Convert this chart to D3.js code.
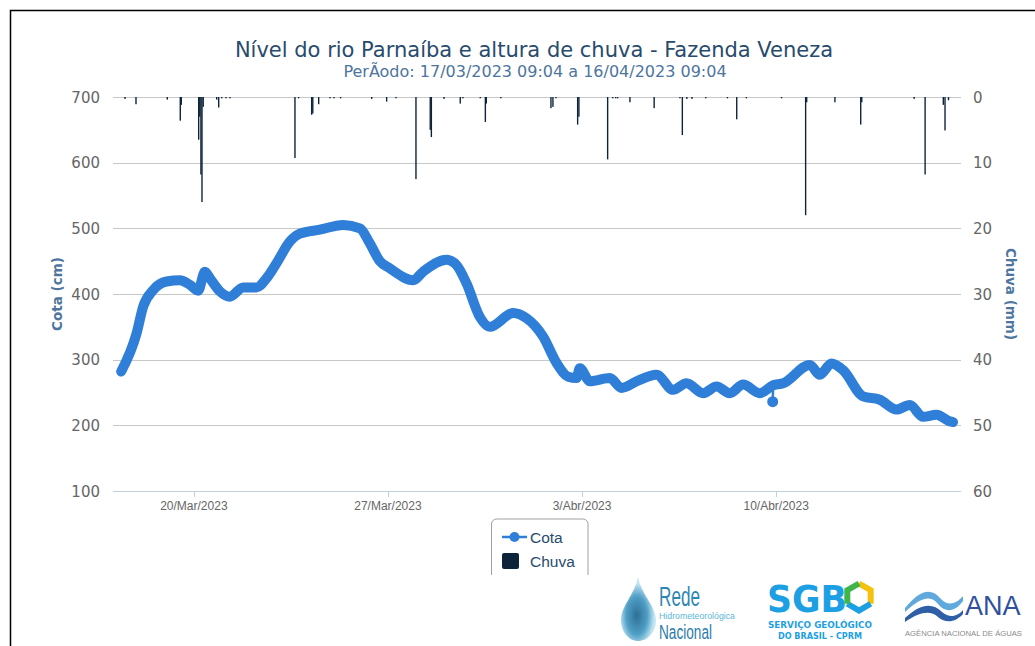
<!DOCTYPE html>
<html><head><meta charset="utf-8">
<script src="https://cdn.jsdelivr.net/npm/d3@7"></script>
<style>body{margin:0;background:#fff} svg{display:block}</style>
</head><body>
<svg id="c" width="1035" height="646"></svg>
<script>
const titleText = "Nível do rio Parnaíba e altura de chuva - Fazenda Veneza";
const subtitleText = "PerÃodo: 17/03/2023 09:04 a 16/04/2023 09:04";
const cotaTicks = [100,200,300,400,500,600,700];
const chuvaTicks = [0,10,20,30,40,50,60];
const xTickDates = ["2023-03-20 00:00","2023-03-27 00:00","2023-04-03 00:00","2023-04-10 00:00"];
const xTickLabels = ["20/Mar/2023","27/Mar/2023","3/Abr/2023","10/Abr/2023"];
const legendLabels = ["Cota","Chuva"];

const cotaDates = [
"2023-03-17 09:04","2023-03-17 22:25","2023-03-18 04:08","2023-03-18 12:46","2023-03-19 00:22",
"2023-03-19 11:53","2023-03-19 20:32","2023-03-20 03:43","2023-03-20 09:31","2023-03-20 13:51",
"2023-03-20 22:30","2023-03-21 07:10","2023-03-21 18:40","2023-03-22 06:16","2023-03-22 14:55",
"2023-03-22 23:34","2023-03-23 11:05","2023-03-23 19:45","2023-03-24 13:03","2023-03-25 09:13",
"2023-03-25 23:40","2023-03-26 08:20","2023-03-26 16:58","2023-03-27 01:38","2023-03-27 21:48",
"2023-03-28 06:27","2023-03-29 02:43","2023-03-29 11:22","2023-03-29 20:01","2023-03-30 07:32",
"2023-03-30 16:10","2023-03-31 12:21","2023-03-31 23:57","2023-04-01 14:19","2023-04-02 01:55",
"2023-04-02 11:57","2023-04-02 19:13","2023-04-02 22:05","2023-04-03 06:45","2023-04-04 00:03",
"2023-04-04 10:09","2023-04-04 23:08","2023-04-05 16:27","2023-04-06 06:49","2023-04-06 18:25",
"2023-04-07 08:47","2023-04-07 20:23","2023-04-08 07:54","2023-04-08 19:25","2023-04-09 09:52",
"2023-04-09 21:23","2023-04-10 06:03","2023-04-11 05:08","2023-04-11 13:48","2023-04-11 23:54",
"2023-04-12 09:57","2023-04-13 03:16","2023-04-13 17:43","2023-04-14 08:10","2023-04-14 19:41",
"2023-04-15 07:12","2023-04-15 18:48","2023-04-16 06:19","2023-04-16 09:04"];
const cotaValues = [
282,340,381,406,419,
421,414,405,434,424,
404,396,410,410,424,
447,480,492,498,505,
500,477,450,439,421,
434,452,444,416,365,
350,371,363,335,295,
274,272,287,267,272,
257,267,277,254,264,
249,259,249,262,249,
261,264,292,277,294,
284,244,239,224,231,
213,216,206,205];
const cotaIsolatedDates = ["2023-04-09 21:00"];
const cotaIsolatedValues = [236];

const chuvaDates = [
"2023-03-17 12:17","2023-03-17 21:48","2023-03-19 00:53","2023-03-19 12:08","2023-03-19 13:00",
"2023-03-20 04:04","2023-03-20 05:00","2023-03-20 06:00","2023-03-20 06:55","2023-03-20 08:00",
"2023-03-20 19:40","2023-03-20 21:23","2023-03-21 00:00","2023-03-21 03:42","2023-03-21 07:10",
"2023-03-23 15:24","2023-03-23 18:36","2023-03-24 05:51","2023-03-24 06:50","2023-03-24 11:56",
"2023-03-24 21:42","2023-03-25 01:10","2023-03-25 06:55","2023-03-26 09:48","2023-03-26 22:46",
"2023-03-27 06:50","2023-03-28 00:08","2023-03-28 12:30","2023-03-28 13:28","2023-03-29 00:27",
"2023-03-29 14:28","2023-03-29 16:48","2023-03-30 07:47","2023-03-30 12:12","2023-03-30 13:00",
"2023-03-31 01:36","2023-04-01 20:59","2023-04-01 22:42","2023-04-02 01:18","2023-04-02 20:05",
"2023-04-02 21:10","2023-04-03 22:03","2023-04-04 02:30","2023-04-04 05:00","2023-04-04 06:40",
"2023-04-04 17:21","2023-04-05 14:18","2023-04-06 12:37","2023-04-06 14:42","2023-04-06 18:36",
"2023-04-06 23:01","2023-04-07 10:58","2023-04-08 05:44","2023-04-08 13:47","2023-04-08 22:06",
"2023-04-10 04:33","2023-04-11 01:25","2023-04-11 02:20","2023-04-12 02:47","2023-04-13 01:06",
"2023-04-13 02:00","2023-04-14 23:20","2023-04-15 08:50","2023-04-16 00:36","2023-04-16 02:04",
"2023-04-16 05:05"];
const chuvaValues = [
0.3,1.1,0.4,3.6,1.2,
6.5,3.0,11.8,16.0,1.5,
0.4,1.6,0.2,0.2,0.2,
9.3,0.2,2.7,2.5,1.1,
0.2,0.2,0.2,0.3,0.7,
0.2,12.5,5.0,6.1,0.3,
1.0,0.2,0.2,3.8,1.0,
0.2,1.7,1.5,0.2,4.2,
3.0,9.5,0.2,0.2,0.2,
0.8,1.7,0.2,5.8,0.3,
0.3,0.2,0.2,3.4,0.2,
0.2,18.0,0.8,0.8,4.2,
0.8,0.3,11.8,1.2,5.1,
0.5];

const parse = d3.timeParse("%Y-%m-%d %H:%M");
const svg = d3.select("#c");

const plot = {left:113, right:961, top:97, bottom:491};
const x = d3.scaleTime()
  .domain([parse("2023-03-17 02:00"), parse("2023-04-16 16:00")])
  .range([plot.left, plot.right]);
const yL = d3.scaleLinear().domain([100,700]).range([plot.bottom, plot.top]);
const yR = d3.scaleLinear().domain([0,60]).range([plot.top, plot.bottom]);

// frame
svg.append("rect").attr("x",10.5).attr("y",10.5).attr("width",1100).attr("height",700)
  .attr("fill","none").attr("stroke","#000").attr("stroke-width",1.5);

// gridlines
svg.append("g").selectAll("line").data(cotaTicks.filter(d=>d>100)).join("line")
  .attr("x1",plot.left).attr("x2",plot.right)
  .attr("y1",d=>Math.round(yL(d))+0.5).attr("y2",d=>Math.round(yL(d))+0.5)
  .attr("stroke","#c8c8c8").attr("stroke-width",1);
// x axis line
svg.append("line").attr("x1",plot.left).attr("x2",plot.right)
  .attr("y1",plot.bottom+0.5).attr("y2",plot.bottom+0.5)
  .attr("stroke","#c0d0e0").attr("stroke-width",1);
// x ticks
svg.append("g").selectAll("line").data(xTickDates).join("line")
  .attr("x1",d=>Math.round(x(parse(d)))+0.5).attr("x2",d=>Math.round(x(parse(d)))+0.5)
  .attr("y1",plot.bottom).attr("y2",plot.bottom+6)
  .attr("stroke","#c0d0e0");
svg.append("g").selectAll("text").data(xTickDates).join("text")
  .attr("x",d=>x(parse(d))).attr("y",plot.bottom+19)
  .attr("text-anchor","middle")
  .attr("font-family","Liberation Sans, Arial, sans-serif").attr("font-size",12)
  .attr("fill","#666").text((d,i)=>xTickLabels[i]);

// left axis labels
svg.append("g").selectAll("text").data(cotaTicks).join("text")
  .attr("x",100).attr("y",d=>yL(d)+5.5)
  .attr("text-anchor","end")
  .attr("font-family","DejaVu Sans, Verdana, sans-serif").attr("font-size",15)
  .attr("fill","#666").text(d=>d);
// right axis labels
svg.append("g").selectAll("text").data(chuvaTicks).join("text")
  .attr("x",973).attr("y",d=>yR(d)+5.5)
  .attr("text-anchor","start")
  .attr("font-family","DejaVu Sans, Verdana, sans-serif").attr("font-size",15)
  .attr("fill","#666").text(d=>d);

// axis titles
svg.append("text").attr("transform",`translate(62,${(plot.top+plot.bottom)/2}) rotate(-90)`)
  .attr("text-anchor","middle")
  .attr("font-family","DejaVu Sans, sans-serif").attr("font-weight","bold").attr("font-size",13.5)
  .attr("fill","#4d759e").text("Cota (cm)");
svg.append("text").attr("transform",`translate(1006,${(plot.top+plot.bottom)/2}) rotate(90)`)
  .attr("text-anchor","middle")
  .attr("font-family","DejaVu Sans, sans-serif").attr("font-weight","bold").attr("font-size",13.5)
  .attr("fill","#4d759e").text("Chuva (mm)");

// titles
svg.append("text").attr("x",534).attr("y",57).attr("text-anchor","middle")
  .attr("font-family","DejaVu Sans, sans-serif").attr("font-size",21)
  .attr("fill","#274b6d").text(titleText);
svg.append("text").attr("x",535).attr("y",77).attr("text-anchor","middle")
  .attr("font-family","DejaVu Sans, sans-serif").attr("font-size",16)
  .attr("fill","#4d759e").text(subtitleText);

// rain bars
const chuva = chuvaDates.map((d,i)=>({t:parse(d), v:chuvaValues[i]}));
const hourW = x(new Date(2023,2,20,1)) - x(new Date(2023,2,20,0));
svg.append("g").selectAll("rect").data(chuva).join("rect")
  .attr("x",d=>x(d.t)-hourW/2).attr("width",hourW*1.2)
  .attr("y",yR(0)).attr("height",d=>yR(d.v)-yR(0))
  .attr("fill","#0d233a");

// cota line
const cota = cotaDates.map((d,i)=>({t:parse(d), v:cotaValues[i]}));
const iso = cotaIsolatedDates.map((d,i)=>({t:parse(d), v:cotaIsolatedValues[i]}));
const line = d3.line().x(d=>x(d.t)).y(d=>yL(d.v)).curve(d3.curveMonotoneX);
svg.append("path").datum(cota).attr("d",line)
  .attr("fill","none").attr("stroke","#2f7ed8").attr("stroke-width",10)
  .attr("stroke-linejoin","round").attr("stroke-linecap","round");
iso.forEach(p=>{
  const near = cota.reduce((a,b)=>Math.abs(b.t-p.t)<Math.abs(a.t-p.t)?b:a);
  svg.append("line").attr("x1",x(p.t)).attr("y1",yL(p.v)).attr("x2",x(near.t)).attr("y2",yL(near.v))
    .attr("stroke","#2f7ed8").attr("stroke-width",2.5);
  svg.append("circle").attr("cx",x(p.t)).attr("cy",yL(p.v)).attr("r",5.5).attr("fill","#2f7ed8");
});

// legend
const lg = svg.append("g");
lg.append("path").attr("d","M491.5,575 V524 a5,5 0 0 1 5,-5 H583 a5,5 0 0 1 5,5 V575")
  .attr("fill","#fff").attr("stroke","#a0a0a0").attr("stroke-width",1);
lg.append("line").attr("x1",502).attr("x2",527).attr("y1",537).attr("y2",537)
  .attr("stroke","#2f7ed8").attr("stroke-width",2.5);
lg.append("circle").attr("cx",514.5).attr("cy",537).attr("r",5).attr("fill","#2f7ed8");
lg.append("rect").attr("x",502).attr("y",553).attr("width",17).attr("height",16).attr("rx",2).attr("fill","#0d233a");
lg.selectAll("text").data(legendLabels).join("text")
  .attr("x",530).attr("y",(d,i)=>543+i*24)
  .attr("font-family","Liberation Sans, Arial, sans-serif").attr("font-size",15.5)
  .attr("fill","#274b6d").text(d=>d);

// logos (drawn approximations)
const logo = svg.append("g");
const defs = svg.append("defs");
const grad = defs.append("radialGradient").attr("id","dropG").attr("cx","45%").attr("cy","60%");
grad.append("stop").attr("offset","0%").attr("stop-color","#2f6f96");
grad.append("stop").attr("offset","60%").attr("stop-color","#4f9fc6");
grad.append("stop").attr("offset","100%").attr("stop-color","#c4e6f3");
logo.append("path").attr("d","M638,577 C634,596 621,606 621,620 C621,632 629,641 638,641 C648,641 656,632 656,620 C656,606 642,596 638,577 Z")
  .attr("fill","url(#dropG)");
const narrow = "Liberation Sans Narrow, Liberation Sans, Arial, sans-serif";
logo.append("text").attr("x",659).attr("y",606).attr("font-family",narrow)
  .attr("font-size",27).attr("fill","#2e86b5")
  .attr("textLength",41).attr("lengthAdjust","spacingAndGlyphs").text("Rede");
logo.append("text").attr("x",659).attr("y",619).attr("font-family",narrow)
  .attr("font-size",8.5).attr("fill","#5cb6da")
  .attr("textLength",76).attr("lengthAdjust","spacingAndGlyphs").text("Hidrometeorológica");
logo.append("text").attr("x",659).attr("y",639).attr("font-family",narrow)
  .attr("font-size",20).attr("fill","#2a7cab")
  .attr("textLength",53).attr("lengthAdjust","spacingAndGlyphs").text("Nacional");
// SGB
logo.append("text").attr("x",767).attr("y",612).attr("font-family","DejaVu Sans, sans-serif").attr("font-weight","bold")
  .attr("font-size",38).attr("fill","#1d9fe4")
  .attr("textLength",80).attr("lengthAdjust","spacingAndGlyphs").text("SGB");
const hc = [859,597], hr = 13.5;
const hp = d3.range(6).map(i=>{const a=Math.PI/180*(-90+60*i); return [hc[0]+hr*Math.cos(a), hc[1]+hr*Math.sin(a)];});
logo.append("path").attr("d",`M${hp[0]}L${hp[1]}L${hp[2]}`).attr("fill","none").attr("stroke","#f4c20d").attr("stroke-width",6);
logo.append("path").attr("d",`M${hp[2]}L${hp[3]}L${hp[4]}`).attr("fill","none").attr("stroke","#1d9fe4").attr("stroke-width",6);
logo.append("path").attr("d",`M${hp[4]}L${hp[5]}L${hp[0]}`).attr("fill","none").attr("stroke","#3fb54a").attr("stroke-width",6);
logo.append("text").attr("x",768).attr("y",628).attr("font-family","DejaVu Sans, sans-serif").attr("font-weight","bold")
  .attr("font-size",9).attr("fill","#1d9fe4")
  .attr("textLength",104).attr("lengthAdjust","spacingAndGlyphs").text("SERVIÇO GEOLÓGICO");
logo.append("text").attr("x",778).attr("y",639).attr("font-family","DejaVu Sans, sans-serif").attr("font-weight","bold")
  .attr("font-size",9).attr("fill","#1d9fe4")
  .attr("textLength",84).attr("lengthAdjust","spacingAndGlyphs").text("DO BRASIL - CPRM");
// ANA
logo.append("path").attr("d","M905,608 C918,592 930,586 940,598 C948,607 956,604 963,596 L963,601 C956,611 946,614 938,604 C930,594 920,598 905,612 Z").attr("fill","#5fa9dc");
logo.append("path").attr("d","M905,618 C920,604 932,602 942,612 C950,619 958,616 963,610 L963,614 C956,622 946,624 938,617 C930,610 920,612 905,622 Z").attr("fill","#2f5fa6");
logo.append("text").attr("x",965).attr("y",615).attr("font-family","Liberation Sans, Arial, sans-serif")
  .attr("font-size",27).attr("fill","#2f4f9f").text("ANA");
logo.append("text").attr("x",905).attr("y",636).attr("font-family","Liberation Sans, Arial, sans-serif")
  .attr("font-size",7).attr("fill","#8a8a8a")
  .attr("textLength",117).attr("lengthAdjust","spacingAndGlyphs").text("AGÊNCIA NACIONAL DE ÁGUAS");
</script>
</body></html>
